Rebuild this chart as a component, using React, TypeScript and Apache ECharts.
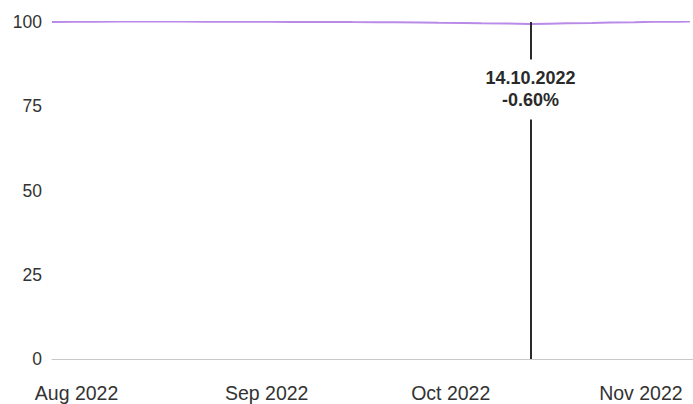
import React, { useEffect, useRef } from "react";
import * as echarts from "echarts";

const dates: string[] = [
  "2022-07-28", "2022-08-01", "2022-08-04", "2022-08-08", "2022-08-11", "2022-08-15",
  "2022-08-18", "2022-08-22", "2022-08-25", "2022-08-29", "2022-09-01", "2022-09-05",
  "2022-09-08", "2022-09-12", "2022-09-15", "2022-09-19", "2022-09-22", "2022-09-26",
  "2022-09-29", "2022-10-03", "2022-10-06", "2022-10-10", "2022-10-12", "2022-10-14",
  "2022-10-17", "2022-10-20", "2022-10-24", "2022-10-27", "2022-10-31", "2022-11-03",
  "2022-11-07", "2022-11-09",
];
const values: number[] = [
  100.0, 100.05, 100.1, 100.12, 100.15, 100.18,
  100.16, 100.1, 100.12, 100.08, 100.05, 100.02,
  100.0, 100.05, 99.98, 99.95, 99.9, 99.82,
  99.75, 99.7, 99.62, 99.55, 99.48, 99.4,
  99.5, 99.6, 99.72, 99.85, 99.95, 100.05,
  100.1, 100.12,
];
const monthTicks: string[] = ["2022-08-01", "2022-09-01", "2022-10-01", "2022-11-01"];
const monthNames: string[] = ["Jan", "Feb", "Mar", "Apr", "May", "Jun", "Jul", "Aug", "Sep", "Oct", "Nov", "Dec"];
const highlightDate = "2022-10-14";
const xMin = "2022-07-28";
const xMax = "2022-11-09";

const ts = (d: string) => Date.UTC(+d.slice(0, 4), +d.slice(5, 7) - 1, +d.slice(8, 10));
const HALF_DAY = 12 * 3600 * 1000;

export default function App() {
  const ref = useRef<HTMLDivElement>(null);
  useEffect(() => {
    if (!ref.current) return;
    const chart = echarts.init(ref.current, undefined, { renderer: "svg" });
    const hi = dates.indexOf(highlightDate);
    const hv = values[hi];
    const [yy, mm, dd] = highlightDate.split("-");
    const labelDate = `${dd}.${mm}.${yy}`;
    const labelVal = `${(hv - 100).toFixed(2)}%`;
    const fam = "'Liberation Sans', Arial, sans-serif";
    chart.setOption({
      animation: false,
      grid: { left: 52, right: 0, top: 22, bottom: 45 },
      xAxis: {
        type: "value",
        min: ts(xMin),
        max: ts(xMax) + HALF_DAY,
        axisLine: { show: true, lineStyle: { color: "#c8c8c8", width: 1 } },
        axisTick: { show: false },
        splitLine: { show: false },
        axisLabel: {
          customValues: monthTicks.map(ts),
          formatter: (v: number) => {
            const d = new Date(v);
            return `${monthNames[d.getUTCMonth()]} ${d.getUTCFullYear()}`;
          },
          color: "#333",
          fontSize: 19.5,
          fontFamily: fam,
          margin: 24,
        },
      },
      yAxis: {
        type: "value",
        min: 0,
        max: 100,
        interval: 25,
        axisLine: { show: false },
        axisTick: { show: false },
        splitLine: { show: false },
        axisLabel: {
          color: "#333",
          fontSize: 17.5,
          fontFamily: fam,
          margin: 10,
        },
      },
      series: [
        {
          type: "line",
          data: dates.map((d, i) => [ts(d), values[i]]),
          showSymbol: false,
          symbol: "none",
          lineStyle: { color: "#b98ae8", width: 2 },
          markLine: {
            silent: true,
            symbol: "none",
            label: { show: false },
            lineStyle: { color: "#2a2a2a", width: 2, type: "solid" },
            data: [[{ coord: [ts(highlightDate), 0] }, { coord: [ts(highlightDate), 100] }]],
          },
          markPoint: {
            silent: true,
            symbol: "rect",
            symbolSize: 0,
            data: [{ coord: [ts(highlightDate), 80] }],
            label: {
              show: true,
              position: "inside",
              formatter: `{a|${labelDate}}\n{a|${labelVal}}`,
              backgroundColor: "#fff",
              padding: [8, 6],
              rich: {
                a: {
                  fontSize: 18,
                  fontWeight: "bold",
                  color: "#2a2a2a",
                  fontFamily: fam,
                  lineHeight: 22,
                  align: "center",
                },
              },
            },
          },
        },
      ],
    });
    return () => chart.dispose();
  }, []);
  return <div ref={ref} style={{ width: 693, height: 404, position: "absolute", left: 0, top: 0 }} />;
}
